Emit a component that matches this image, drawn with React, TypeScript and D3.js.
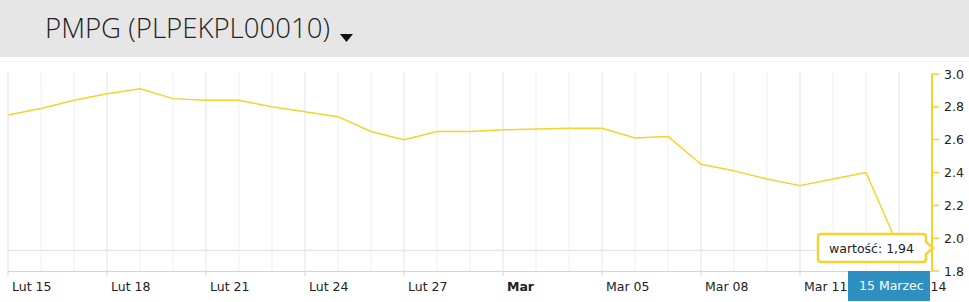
import React from "react";
import * as d3 from "d3";

const title = "PMPG (PLPEKPL00010)";
const values = [
  2.75, 2.79, 2.84, 2.88, 2.91, 2.85, 2.84, 2.84, 2.8, 2.77, 2.74, 2.65, 2.6, 2.65,
  2.65, 2.66, 2.665, 2.67, 2.67, 2.61, 2.62, 2.45, 2.41, 2.36, 2.32, 2.36, 2.4, 1.94,
];
const tickIndex = [0, 3, 6, 9, 12, 15, 18, 21, 24, 27];
const tickLabels = ["Lut 15", "Lut 18", "Lut 21", "Lut 24", "Lut 27", "Mar", "Mar 05", "Mar 08", "Mar 11", "Mar 14"];
const boldLabels = ["Mar"];
const yTicks = [1.8, 2.0, 2.2, 2.4, 2.6, 2.8, 3.0];
const tooltipText = "wartość: 1,94";
const dateLabel = "15 Marzec";

const W = 969;
const H = 302;
const FONT = "'DejaVu Sans', Verdana, sans-serif";
const YELLOW = "#f5d22e";

export default function App() {
  const x = d3.scaleLinear().domain([0, 28]).range([8, 932]);
  const y = d3.scaleLinear().domain([1.8, 3.0]).range([271, 74]);
  const line = d3
    .line<number>()
    .x((_, i) => x(i))
    .y((d) => y(d));
  const lastIdx = values.length - 1;
  const lastV = values[lastIdx];
  const ty = y(lastV);
  const tipX = 933;
  const bx0 = 818, bx1 = 926, by0 = 234, by1 = 262;
  const tipPath = `M${bx0 + 3},${by0} L${bx1 - 3},${by0} Q${bx1},${by0} ${bx1},${by0 + 3} L${bx1},${ty - 6} L${tipX},${ty} L${bx1},${ty + 6} L${bx1},${by1 - 3} Q${bx1},${by1} ${bx1 - 3},${by1} L${bx0 + 3},${by1} Q${bx0},${by1} ${bx0},${by1 - 3} L${bx0},${by0 + 3} Q${bx0},${by0} ${bx0 + 3},${by0} Z`;
  const gridIdx = d3.range(0, 29);
  return (
    <div style={{ position: "absolute", left: 0, top: 0 }}>
      <svg width={W} height={H} style={{ display: "block", background: "#fff" }}>
        <rect x={0} y={0} width={W} height={57} fill="#e6e6e6" />
        <line x1={0} x2={W} y1={61.5} y2={61.5} stroke="#f4f4f4" />
        <text
          x={45}
          y={38}
          fontFamily="'Open Sans', sans-serif"
          fontSize={28}
          fontWeight={300}
          textLength={285}
          lengthAdjust="spacingAndGlyphs"
          fill="#222"
        >
          {title}
        </text>
        <path d="M340,34 L353,34 L346.5,42 Z" fill="#111" />

        {gridIdx.map((i) => (
          <line
            key={"g" + i}
            x1={x(i)}
            x2={x(i)}
            y1={72}
            y2={271}
            stroke={tickIndex.includes(i) ? "#e3e3e3" : "#efefef"}
            strokeWidth={1}
          />
        ))}
        <line x1={8} x2={932} y1={ty + 2.5} y2={ty + 2.5} stroke="#dde6ee" strokeWidth={1.5} />
        <line x1={8} x2={932} y1={271.5} y2={271.5} stroke="#d4d4d4" strokeWidth={1} />
        {tickIndex.map((i, k) => (
          <g key={"t" + i}>
            <line x1={x(i)} x2={x(i)} y1={271} y2={276} stroke="#d4d4d4" />
            <text
              x={x(i) + 4}
              y={291}
              fontFamily={FONT}
              fontSize={12.5}
              fontWeight={boldLabels.includes(tickLabels[k]) ? "bold" : "normal"}
              fill="#222"
            >
              {tickLabels[k]}
            </text>
          </g>
        ))}

        <path d={line(values) || ""} fill="none" stroke={YELLOW} strokeWidth={1.5} strokeLinejoin="round" />

        <line x1={932} x2={932} y1={y(3.0)} y2={y(1.8)} stroke={YELLOW} strokeWidth={2} />
        {yTicks.map((t) => (
          <g key={"y" + t}>
            <line x1={932} x2={939} y1={y(t)} y2={y(t)} stroke={YELLOW} strokeWidth={1.5} />
            <text x={944} y={y(t) + 4.5} fontFamily={FONT} fontSize={12.5} fill="#222">
              {t.toFixed(1)}
            </text>
          </g>
        ))}

        <path d={tipPath} fill="#fff" stroke={YELLOW} strokeWidth={2.5} />
        <text x={829} y={ty + 4.5} fontFamily={FONT} fontSize={12.5} fill="#222">
          {tooltipText}
        </text>

        <rect x={848} y={271} width={82} height={30} fill="#2e8fc0" />
        <text x={859} y={290} fontFamily={FONT} fontSize={12.5} fill="#fff">
          {dateLabel}
        </text>
      </svg>
    </div>
  );
}
